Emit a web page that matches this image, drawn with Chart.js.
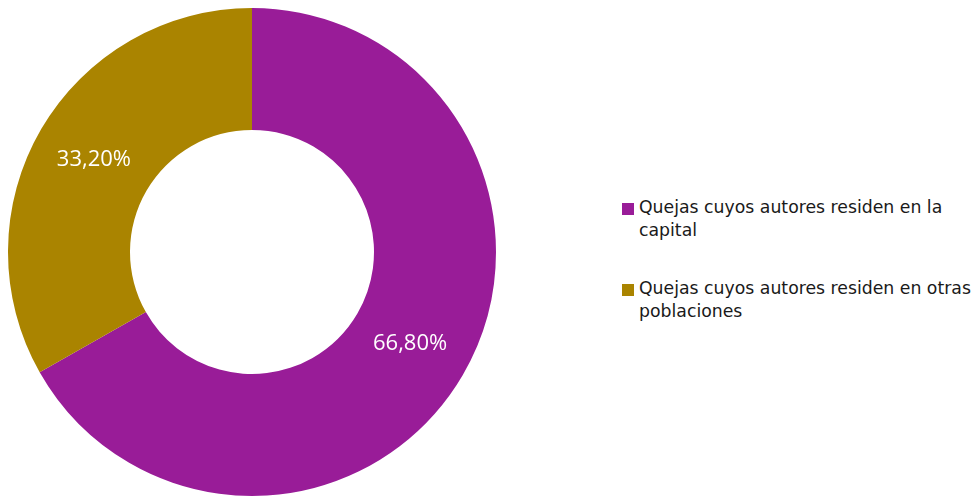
<!DOCTYPE html>
<html>
<head>
<meta charset="utf-8">
<script src="https://cdn.jsdelivr.net/npm/chart.js@4/dist/chart.umd.min.js"></script>
<style>
  html, body { margin: 0; padding: 0; background: #ffffff; }
  #wrap { position: relative; width: 976px; height: 497px; overflow: hidden; }
  #box { position: absolute; left: 0; top: 0; width: 504px; height: 497px; }
  #legend { position: absolute; left: 622px; top: 196px; width: 354px;
    font-family: "DejaVu Sans", sans-serif; font-size: 17.3px; color: #1a1a1a; line-height: 23px; }
  .item { position: relative; padding-left: 17px; white-space: nowrap; }
  .sw { position: absolute; left: 0; top: 7px; width: 12px; height: 12px; }
  .item + .item { margin-top: 35px; }
</style>
</head>
<body>
<div id="wrap">
  <div id="box"><canvas id="c"></canvas></div>
  <div id="legend"></div>
</div>
<script>
const categories = ["Quejas cuyos autores residen en la capital", "Quejas cuyos autores residen en otras poblaciones"];
const legendLines = [["Quejas cuyos autores residen en la", "capital"], ["Quejas cuyos autores residen en otras", "poblaciones"]];
const values = [66.8, 33.2];
const valueLabels = ["66,80%", "33,20%"];
const colors = ["#991c98", "#aa8400"];

const leg = document.getElementById('legend');
categories.forEach((c, i) => {
  const d = document.createElement('div');
  d.className = 'item';
  d.innerHTML = '<span class="sw" style="background:' + colors[i] + '"></span>' + legendLines[i].join('<br>');
  leg.appendChild(d);
});

const labelPlugin = {
  id: 'sliceLabels',
  afterDatasetsDraw(chart) {
    const ctx = chart.ctx;
    const meta = chart.getDatasetMeta(0);
    ctx.save();
    ctx.fillStyle = '#ffffff';
    ctx.font = '22px "Open Sans", sans-serif';
    ctx.textAlign = 'center';
    ctx.textBaseline = 'middle';
    meta.data.forEach((arc, i) => {
      const p = arc.getProps(['x', 'y', 'startAngle', 'endAngle', 'innerRadius', 'outerRadius'], true);
      const mid = (p.startAngle + p.endAngle) / 2;
      const r = (p.innerRadius + p.outerRadius) / 2;
      ctx.fillText(valueLabels[i], p.x + Math.cos(mid) * r, p.y + Math.sin(mid) * r);
    });
    ctx.restore();
  }
};

new Chart(document.getElementById('c'), {
  type: 'doughnut',
  data: {
    labels: categories,
    datasets: [{ data: values, backgroundColor: colors, borderWidth: 0, hoverOffset: 0 }]
  },
  options: {
    responsive: true,
    maintainAspectRatio: false,
    animation: false,
    cutout: '50%',
    layout: { padding: { top: 8, bottom: 1, left: 8, right: 8 } },
    plugins: { legend: { display: false }, tooltip: { enabled: false } }
  },
  plugins: [labelPlugin]
});
</script>
</body>
</html>
